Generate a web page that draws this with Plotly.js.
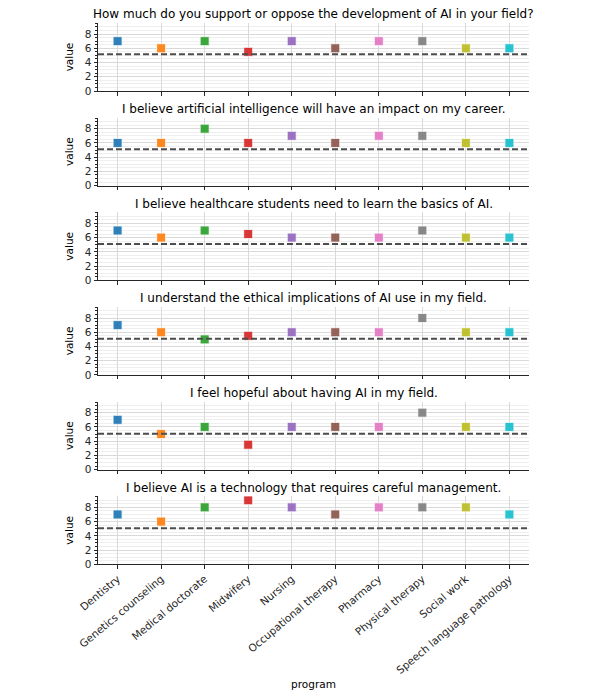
<!DOCTYPE html>
<html>
<head>
<meta charset="utf-8">
<script src="https://cdn.plot.ly/plotly-3.0.1.min.js"></script>
<style>html,body{margin:0;padding:0;background:#fff;}#chart{width:604px;height:690px;}</style>
</head>
<body>
<div id="chart"></div>
<script>
const programs = ["Dentistry","Genetics counseling","Medical doctorate","Midwifery","Nursing","Occupational therapy","Pharmacy","Physical therapy","Social work","Speech language pathology"];
const colors = ["#1f77b4","#ff7f0e","#2ca02c","#d62728","#9467bd","#8c564b","#e377c2","#7f7f7f","#bcbd22","#17becf"];
const questions = [
  "How much do you support or oppose the development of AI in your field?",
  "I believe artificial intelligence will have an impact on my career.",
  "I believe healthcare students need to learn the basics of AI.",
  "I understand the ethical implications of AI use in my field.",
  "I feel hopeful about having AI in my field.",
  "I believe AI is a technology that requires careful management."
];
const q1 = [7, 6, 7, 5.5, 7, 6, 7, 7, 6, 6];
const q2 = [6, 6, 8, 6, 7, 6, 7, 7, 6, 6];
const q3 = [7, 6, 7, 6.5, 6, 6, 6, 7, 6, 6];
const q4 = [7, 6, 5, 5.5, 6, 6, 6, 8, 6, 6];
const q5 = [7, 5, 6, 3.5, 6, 6, 6, 8, 6, 6];
const q6 = [7, 6, 8, 9, 8, 7, 8, 8, 8, 7];
const refLines = [5.15, 5.1, 5.1, 5.1, 5.05, 5.05];
const yTicks = [0, 2, 4, 6, 8];

const series = [q1, q2, q3, q4, q5, q6];
const H = 690;
const traces = [];
const layout = {
  width: 604, height: 690,
  margin: {l: 98, r: 75, t: 0, b: 0},
  paper_bgcolor: "#fff", plot_bgcolor: "#fff",
  showlegend: false,
  font: {family: "DejaVu Sans", size: 10.5, color: "#262626"},
  annotations: [], shapes: []
};
series.forEach((vals, i) => {
  const sfx = i === 0 ? "" : String(i + 1);
  traces.push({
    type: "scatter", mode: "markers",
    x: programs, y: vals,
    xaxis: "x" + sfx, yaxis: "y" + sfx,
    marker: {symbol: "square", size: 9, color: colors, opacity: 0.92, line: {color: "rgba(255,255,255,0.8)", width: 1}},
    hoverinfo: "x+y"
  });
  const top = 23 + i * 94.66, bottom = 91 + i * 94.66;
  const last = i === series.length - 1;
  layout["xaxis" + sfx] = {
    domain: [0, 1], anchor: "y" + sfx,
    type: "category", categoryorder: "array", categoryarray: programs,
    range: [-0.45, 9.45],
    showline: true, linecolor: "#262626", linewidth: 1,
    ticks: "outside", ticklen: 3.5, tickcolor: "#262626",
    showgrid: true, gridcolor: "#d9d9d9", gridwidth: 1,
    showticklabels: last, tickangle: -40,
    tickfont: {size: 10.5, color: "#262626"},
    zeroline: false,
    title: last ? {text: "program", font: {size: 10.5, color: "#000"}, standoff: 6} : {text: ""}
  };
  layout["yaxis" + sfx] = {
    domain: [1 - bottom / H, 1 - top / H], anchor: "x" + sfx,
    range: [0, 9.55],
    tickvals: yTicks, ticktext: yTicks.map(String),
    showline: true, linecolor: "#262626", linewidth: 1,
    ticks: "outside", ticklen: 3.5, tickcolor: "#262626",
    showgrid: true, gridcolor: "#d9d9d9", gridwidth: 1,
    minor: {dtick: 0.5, tick0: 0, showgrid: true, gridcolor: "#efefef", gridwidth: 1, ticks: "outside", ticklen: 2, tickcolor: "#262626"},
    zeroline: false,
    tickfont: {size: 10.5, color: "#262626"},
    title: {text: "value", font: {size: 10.5, color: "#000"}, standoff: 9}
  };
  layout.annotations.push({
    text: questions[i], xref: "paper", yref: "paper",
    x: 0.5, y: 1 - (14 + i * 94.75) / H, xanchor: "center", yanchor: "middle",
    showarrow: false, font: {size: 12, color: "#000"}
  });
  layout.shapes.push({
    type: "line", xref: "x" + sfx + " domain", yref: "y" + sfx,
    x0: 0, x1: 1, y0: refLines[i], y1: refLines[i],
    line: {color: "#4d4d4d", width: 2, dash: "6px,3px"}, layer: "above"
  });
});
Plotly.newPlot("chart", traces, layout, {displayModeBar: false, staticPlot: true});
</script>
</body>
</html>
